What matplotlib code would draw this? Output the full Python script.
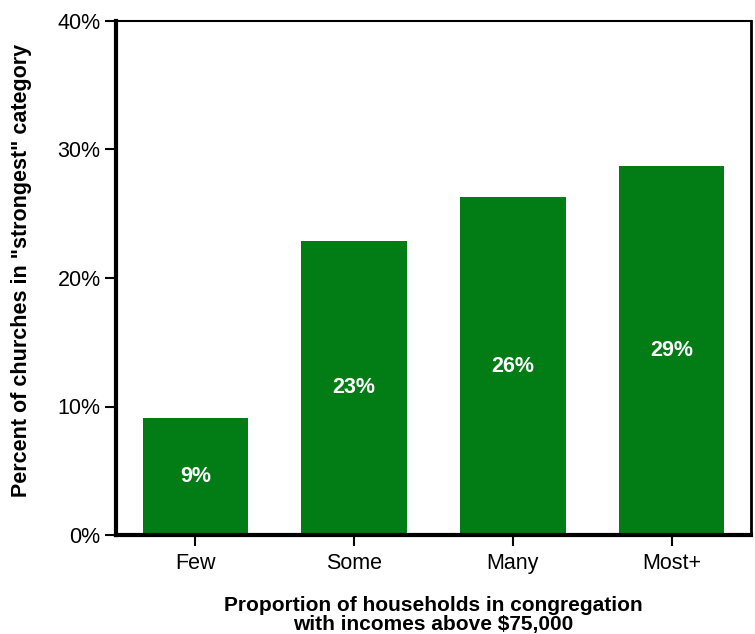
import matplotlib
matplotlib.use('Agg')
import matplotlib.pyplot as plt
from matplotlib.ticker import FuncFormatter

plt.rcParams['font.family'] = ['Liberation Sans', 'DejaVu Sans']

categories = ['Few', 'Some', 'Many', 'Most+']
values = [9.1, 22.9, 26.3, 28.7]
bar_labels = ['9%', '23%', '26%', '29%']
y_ticks = [0, 10, 20, 30, 40]

fig = plt.figure(figsize=(7.55, 6.34), dpi=100)
ax = fig.add_axes([116/755, 99/634, 635/755, 514/634])

x = range(len(categories))
bars = ax.bar(x, values, width=0.665, color='#027d15')
for b, v, lab in zip(bars, values, bar_labels):
    ax.text(b.get_x() + b.get_width()/2, v/2, lab, ha='center', va='center',
            color='white', fontsize=15.5, fontweight='bold')

ax.set_xlim(-0.5, len(categories) - 0.5)
ax.set_ylim(0, 40)
ax.set_xticks(list(x))
ax.set_xticklabels(categories, fontsize=15.5)
ax.set_yticks(y_ticks)
ax.yaxis.set_major_formatter(FuncFormatter(lambda v, p: f'{v:g}%'))
ax.tick_params(axis='y', labelsize=15.5, length=8, width=1.5, direction='out', pad=3)
ax.tick_params(axis='x', length=8, width=1.5, direction='out', pad=5)

ax.spines['left'].set_linewidth(3)
ax.spines['bottom'].set_linewidth(3)
ax.spines['top'].set_linewidth(1.5)
ax.spines['right'].set_linewidth(2)

ax.set_ylabel('Percent of churches in "strongest" category', fontsize=15.5,
              fontweight='bold')
ax.yaxis.set_label_coords(-0.133, 0.514)
ax.set_xlabel('Proportion of households in congregation\nwith incomes above $75,000',
              fontsize=15, fontweight='bold', labelpad=16, linespacing=0.95)

fig.savefig('out.png', dpi=100)
